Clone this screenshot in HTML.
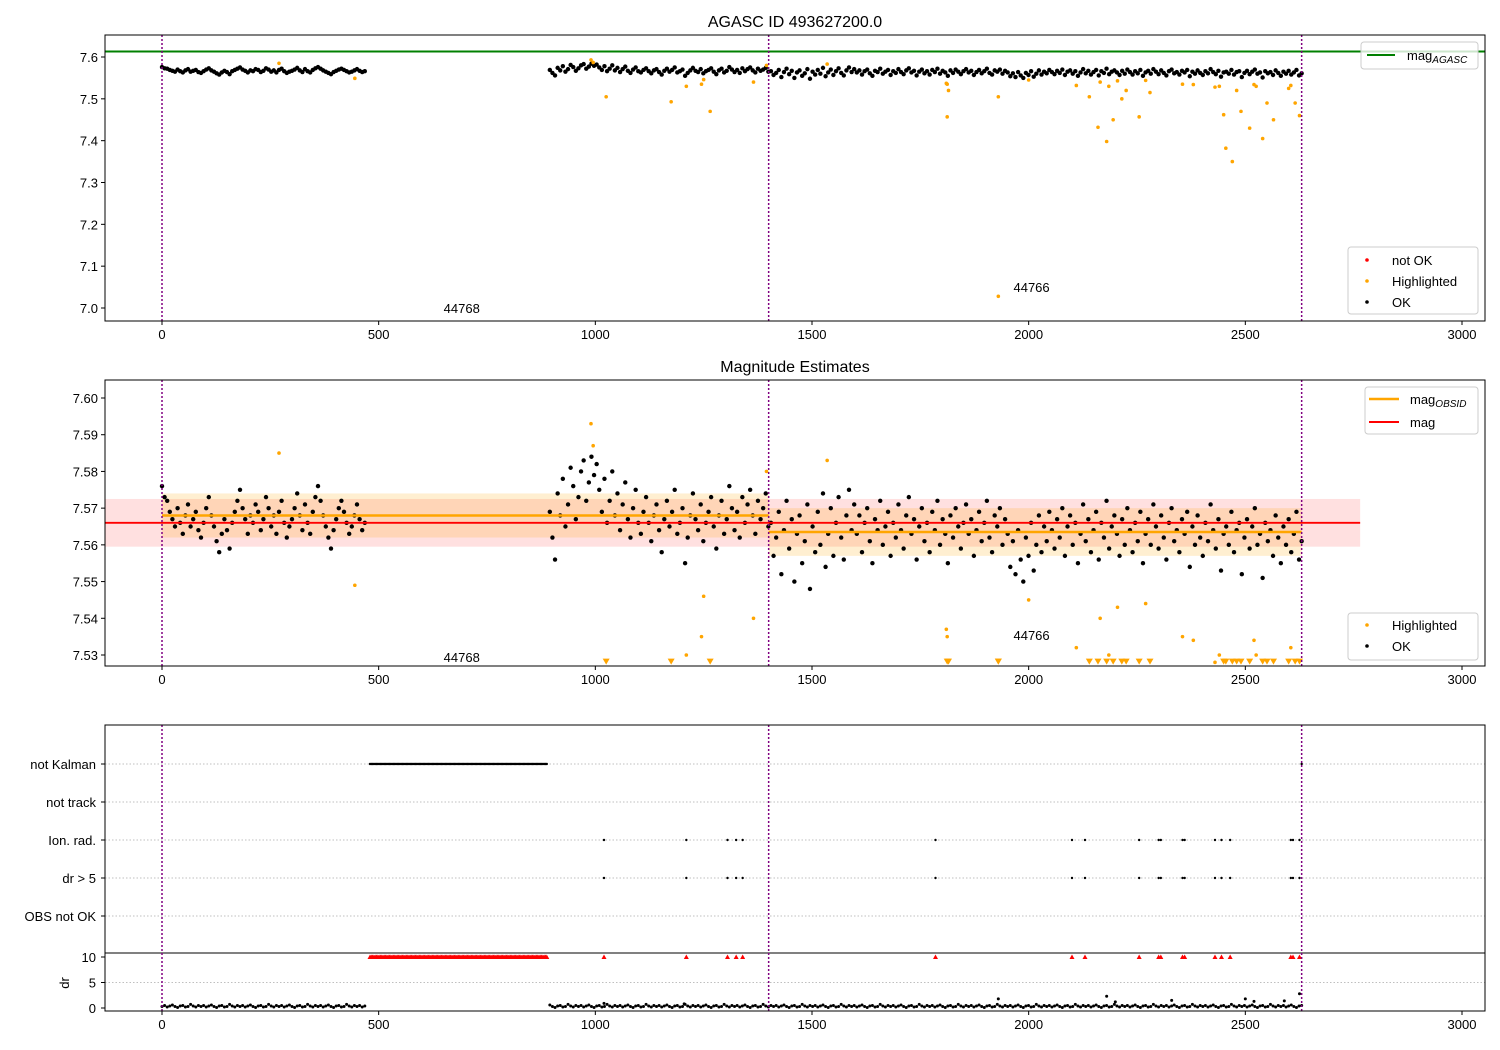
<!DOCTYPE html>
<html><head><meta charset="utf-8"><style>
body{margin:0;background:#fff;}
svg{display:block;font-family:"Liberation Sans","DejaVu Sans",sans-serif;}
</style></head><body>
<svg id="c" width="1500" height="1050" viewBox="0 0 1500 1050" xmlns="http://www.w3.org/2000/svg"></svg>
<script>
// ---- data ----
const segAStart = 0, segAEnd = 468;
const segADev = [16,13,12,9,7,5,10,6,3,8,11,5,7,9,4,2,6,10,13,8,5,1,-2,3,7,4,-1,6,9,12,15,10,7,3,8,6,11,9,4,7,13,10,5,8,3,9,12,6,2,5,7,10,14,8,4,11,6,3,9,13,16,12,8,5,2,-1,4,7,10,12,9,6,3,5,8,11,7,4,6];
const segBStart = 895, segBEnd = 2630;
const segBDev = [9,2,-4,14,8,18,5,11,21,16,7,13,20,23,12,17,24,19,
22,15,9,18,6,12,20,8,14,4,11,17,7,2,10,15,6,
3,9,13,6,1,8,11,4,-2,7,12,5,9,15,3,6,10,-5,2,8,14,7,4,11,1,6,9,13,5,-1,8,12,3,7,16,10,4,9,2,13,6,11,15,8,3,12,7,10,14,5,
6,-3,2,9,-8,4,12,-1,7,-10,3,8,-5,1,11,-12,5,-2,9,0,14,-6,3,10,-3,6,13,2,-4,8,15,4,11,
3,8,-2,6,10,1,-5,7,4,12,0,5,9,-3,6,2,11,4,-1,8,13,3,7,-4,5,10,1,6,-2,9,4,12,0,7,3,-5,8,2,10,5,-1,6,11,3,7,-3,4,9,1,6,12,2,-2,8,5,10,0,7,
3,-6,1,-8,4,-4,-10,2,-3,6,-7,0,8,-2,5,1,9,
4,-1,7,2,10,-3,5,8,0,6,-5,3,11,1,7,-2,4,9,-4,6,2,12,-1,5,8,3,-3,7,0,10,4,-2,6,1,9,-5,3,7,0,11,5,-1,8,2,-4,6,10,1,4,-2,7,3,9,-6,5,0,8,2,-3,6,1,11,4,-1,7,-7,3,5,0,9,-2,4,6,-8,2,7,-1,5,10,0,3,-9,6,1,4,-3,8,2,-5,5,0,7,-2,3,9,-4,1];
const magBase = 7.560; // deviations are in millimag from this
const hiTimes = [270,445,990,995,1025,1175,1210,1245,1250,1265,1365,1395,1535,1810,1812,1812,1815,1930,1930,2000,2110,2140,2160,2165,2180,2185,2195,2205,2215,2225,2255,2270,2280,2355,2380,2430,2440,2450,2455,2470,2480,2490,2510,2520,2525,2540,2550,2565,2600,2605,2615,2625];
const hiMags = [7.585,7.549,7.593,7.587,7.505,7.493,7.53,7.535,7.546,7.47,7.540,7.58,7.583,7.537,7.535,7.457,7.52,7.505,7.028,7.545,7.532,7.505,7.432,7.54,7.398,7.53,7.45,7.543,7.50,7.52,7.457,7.544,7.515,7.535,7.534,7.528,7.53,7.462,7.382,7.35,7.52,7.47,7.43,7.534,7.53,7.405,7.49,7.45,7.525,7.532,7.49,7.46];
const magAgasc = 7.613;
const magMean = 7.566, magMeanErr = 0.0065;
const obsStarts = [0,1400], obsEnds = [1400,2630], obsMags = [7.568,7.5635], obsErrs = [0.006,0.0065];
const obsLines = [0,1400,2630];
const obsLabels = ["44768","44766"], obsLabelX = [650,1965], obsLabelTop = [7.0,7.05], obsLabelMid = [7.5295,7.5355];
const flagTimes = [1020,1210,1305,1325,1340,1785,2100,2130,2255,2300,2305,2355,2360,2430,2445,2465,2605,2610,2625];
const kalmanStart = 480, kalmanEnd = 890;
const drBase = [0.3,0.5,0.2,0.4,0.6,0.3,0.1,0.4,0.5,0.2,0.3,0.7,0.4,0.2,0.5];
const drSpikeT = [1930,2180,2200,2330,2500,2520,2590,2625,1020,1205];
const drSpikeV = [1.8,2.3,1.2,1.5,1.8,1.3,1.4,2.8,0.9,0.8];
const catLabels = ["not Kalman","not track","Ion. rad.","dr > 5","OBS not OK"];
const xTicks = [0,500,1000,1500,2000,2500,3000];
const topYTicks = [7.0,7.1,7.2,7.3,7.4,7.5,7.6];
const midYTicks = [7.53,7.54,7.55,7.56,7.57,7.58,7.59,7.60];
const drTicks = [0,5,10];

// ---- scales ----
const L=105,R=1485;
const sx=v=>162+v*0.43333;
const ysT=m=>57+(7.6-m)*418.33;
const ysM=m=>398+(7.6-m)*3671.4;
const ycat=k=>764+38*k;
const ydr=d=>1008-5.1*d;
const NS="http://www.w3.org/2000/svg";
const svg=document.getElementById('c');
function el(tag,attrs,parent,text){const e=document.createElementNS(NS,tag);for(const k in attrs)e.setAttribute(k,attrs[k]);if(text!==undefined)e.textContent=text;(parent||svg).appendChild(e);return e;}
function clip(id,y0,y1){const cp=el('clipPath',{id:id});el('rect',{x:L,y:y0,width:R-L,height:y1-y0},cp);}
clip('cT',35,321);clip('cM',380,666);clip('cB',725,1011);

// points
const pts=[];
segADev.forEach((d,i)=>pts.push([segAStart+i*(segAEnd-segAStart)/(segADev.length-1),magBase+d/1000]));
segBDev.forEach((d,i)=>pts.push([segBStart+i*(segBEnd-segBStart)/(segBDev.length-1),magBase+d/1000]));

function xAxis(yb,name){
  xTicks.forEach(t=>{const x=sx(t);
    const tk=el('line',{x1:x,x2:x,y1:yb,y2:yb+4,stroke:'#000'});
    
    const tx=el('text',{x:x,y:yb+18,'text-anchor':'middle','font-size':13},null,String(t));
    });
}
function frame(y0,y1,name){const r=el('rect',{x:L,y:y0,width:R-L,height:y1-y0,fill:'none',stroke:'#000','stroke-width':1});
  }
function vlines(y0,y1,cp){const g=el('g',{'clip-path':`url(#${cp})`});
  obsLines.forEach(t=>{const l=el('line',{x1:sx(t),x2:sx(t),y1:y0,y2:y1,stroke:'purple','stroke-width':1.5,'stroke-dasharray':'2,2'},g);
  });}

// ===== TOP PANEL =====
let t=el('text',{x:795,y:27,'text-anchor':'middle','font-size':16},null,'AGASC ID 493627200.0');

let g=el('g',{'clip-path':'url(#cT)'});
let ln=el('line',{x1:L,x2:R,y1:ysT(magAgasc),y2:ysT(magAgasc),stroke:'green','stroke-width':2},g);

pts.forEach(p=>{const c=el('circle',{cx:sx(p[0]),cy:ysT(p[1]),r:2.2,fill:'#000'},g);
  });
hiTimes.forEach((h,i)=>{const c=el('circle',{cx:sx(h),cy:ysT(hiMags[i]),r:1.8,fill:'orange'},g);
  });
vlines(35,321,'cT');
obsLabels.forEach((s,i)=>{const tx=el('text',{x:sx(obsLabelX[i]),y:ysT(obsLabelTop[i])+5,'font-size':13},null,s);
  });
frame(35,321,'top-axes');xAxis(321,'top-x');
topYTicks.forEach(v=>{const y=ysT(v);el('line',{x1:L-4,x2:L,y1:y,y2:y,stroke:'#000'});
  const tx=el('text',{x:L-7,y:y+5,'text-anchor':'end','font-size':13},null,v.toFixed(1));
  });
// legends top
function legendBox(x,y,w,h,name){const r=el('rect',{x:x,y:y,width:w,height:h,rx:3,fill:'#fff','fill-opacity':0.8,stroke:'#ccc'});
  }
legendBox(1361,42,117,27,'agasc-legend');
el('line',{x1:1367,x2:1395,y1:55,y2:55,stroke:'green','stroke-width':2});
t=el('text',{x:1407,y:60,'font-size':13},null,'mag');el('tspan',{'font-size':10,'font-style':'italic',dy:3},t,'AGASC');

legendBox(1348,247,130,67,'status-legend');
[['red','not OK'],['orange','Highlighted'],['#000','OK']].forEach((e,i)=>{const y=260+21*i;
  el('circle',{cx:1367,cy:y,r:1.8,fill:e[0]});
  const tx=el('text',{x:1392,y:y+5,'font-size':13},null,e[1]);
  });

// ===== MIDDLE PANEL =====
t=el('text',{x:795,y:372,'text-anchor':'middle','font-size':16},null,'Magnitude Estimates');

g=el('g',{'clip-path':'url(#cM)'});
let rb=el('rect',{x:L,y:ysM(magMean+magMeanErr),width:sx(2765)-L,height:ysM(magMean-magMeanErr)-ysM(magMean+magMeanErr),fill:'red','fill-opacity':0.12},g);

obsStarts.forEach((s,i)=>{const y0=ysM(obsMags[i]+obsErrs[i]),y1=ysM(obsMags[i]-obsErrs[i]);
  const b=el('rect',{x:sx(s),y:y0,width:sx(obsEnds[i])-sx(s),height:y1-y0,fill:'orange','fill-opacity':0.18},g);
  });
pts.forEach(p=>{const c=el('circle',{cx:sx(p[0]),cy:ysM(p[1]),r:2.2,fill:'#000'},g);
  });
hiTimes.forEach((h,i)=>{const m=hiMags[i];
  if(m<7.527){const x=sx(h),y=ysM(7.5282);
    const p=el('path',{d:`M${x-3.5},${y-3}L${x+3.5},${y-3}L${x},${y+3}Z`,fill:'orange'},g);
    }
  else{const c=el('circle',{cx:sx(h),cy:ysM(m),r:1.8,fill:'orange'},g);
    }});
obsStarts.forEach((s,i)=>{const l=el('line',{x1:sx(s),x2:sx(obsEnds[i]),y1:ysM(obsMags[i]),y2:ysM(obsMags[i]),stroke:'orange','stroke-width':2.5},g);
  });
ln=el('line',{x1:L,x2:sx(2765),y1:ysM(magMean),y2:ysM(magMean),stroke:'red','stroke-width':1.8},g);

vlines(380,666,'cM');
obsLabels.forEach((s,i)=>{const tx=el('text',{x:sx(obsLabelX[i]),y:ysM(obsLabelMid[i])+5,'font-size':13},null,s);
  });
frame(380,666,'middle-axes');xAxis(666,'middle-x');
midYTicks.forEach(v=>{const y=ysM(v);el('line',{x1:L-4,x2:L,y1:y,y2:y,stroke:'#000'});
  const tx=el('text',{x:L-7,y:y+5,'text-anchor':'end','font-size':13},null,v.toFixed(2));
  });
legendBox(1365,387,113,47,'mag-legend');
el('line',{x1:1369,x2:1399,y1:399,y2:399,stroke:'orange','stroke-width':2.5});
t=el('text',{x:1410,y:404,'font-size':13},null,'mag');el('tspan',{'font-size':10,'font-style':'italic',dy:3},t,'OBSID');

el('line',{x1:1369,x2:1399,y1:422,y2:422,stroke:'red','stroke-width':2});
t=el('text',{x:1410,y:427,'font-size':13},null,'mag');
legendBox(1348,613,130,47,'status-legend-middle');
[['orange','Highlighted'],['#000','OK']].forEach((e,i)=>{const y=625+21*i;
  el('circle',{cx:1367,cy:y,r:1.8,fill:e[0]});
  const tx=el('text',{x:1392,y:y+5,'font-size':13},null,e[1]);
  });

// ===== BOTTOM PANEL =====
catLabels.forEach((s,k)=>{const y=ycat(k);
  el('line',{x1:L,x2:R,y1:y,y2:y,stroke:'#aaa','stroke-width':0.8,'stroke-dasharray':'1.5,2'});
  el('line',{x1:L-4,x2:L,y1:y,y2:y,stroke:'#000'});
  const tx=el('text',{x:L-9,y:y+5,'text-anchor':'end','font-size':13},null,s);
  });
el('line',{x1:L,x2:R,y1:ydr(5),y2:ydr(5),stroke:'#aaa','stroke-width':0.8,'stroke-dasharray':'1.5,2'});
el('line',{x1:L,x2:R,y1:953,y2:953,stroke:'#000','stroke-width':1});
drTicks.forEach(v=>{const y=ydr(v);el('line',{x1:L-4,x2:L,y1:y,y2:y,stroke:'#000'});
  const tx=el('text',{x:L-9,y:y+5,'text-anchor':'end','font-size':13},null,String(v));
  });
t=el('text',{x:0,y:0,'font-size':13,'text-anchor':'middle',transform:'translate(69,983) rotate(-90)'},null,'dr');

g=el('g',{'clip-path':'url(#cB)'});
for(let x=kalmanStart;x<=kalmanEnd;x+=3){
  const c=el('circle',{cx:sx(x),cy:ycat(0),r:1.2,fill:'#000'},g);
  
  const p=el('path',{d:`M${sx(x)-2.5},${ydr(10)+2}L${sx(x)+2.5},${ydr(10)+2}L${sx(x)},${ydr(10)-2.5}Z`,fill:'red'},g);
  }
el('circle',{cx:sx(2630),cy:ycat(0),r:1.2,fill:'#000'},g);
flagTimes.forEach(ft=>{[2,3].forEach(k=>{const c=el('circle',{cx:sx(ft),cy:ycat(k),r:1.2,fill:'#000'},g);
  });
  const x=sx(ft),y=ydr(10);
  const p=el('path',{d:`M${x-2.5},${y+2}L${x+2.5},${y+2}L${x},${y-2.5}Z`,fill:'red'},g);
  });
pts.forEach((p,i)=>{const c=el('circle',{cx:sx(p[0]),cy:ydr(drBase[i%drBase.length]),r:1.5,fill:'#000'},g);
  });
drSpikeT.forEach((s,i)=>{const c=el('circle',{cx:sx(s),cy:ydr(drSpikeV[i]),r:1.5,fill:'#000'},g);
  });
vlines(725,1011,'cB');
frame(725,1011,'bottom-axes');xAxis(1011,'bottom-x');
</script>
</body></html>
